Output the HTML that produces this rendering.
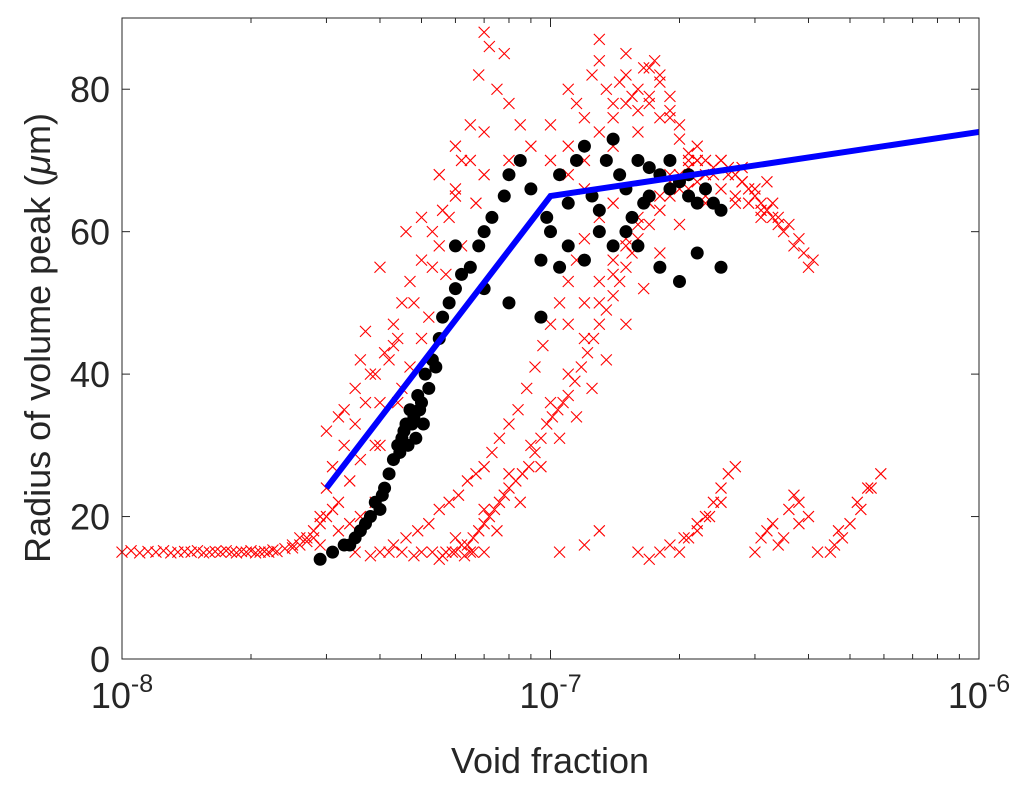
<!DOCTYPE html>
<html><head><meta charset="utf-8">
<style>
html,body{margin:0;padding:0;background:#fff;}
svg{display:block;font-family:"Liberation Sans",sans-serif;}
</style></head>
<body>
<svg id="chart" width="1033" height="793" viewBox="0 0 1033 793" xmlns="http://www.w3.org/2000/svg">
<rect x="122" y="18" width="857" height="641" fill="#fff"/>
<g id="marks"></g>
<g id="axes"></g>
<text transform="translate(50,338) rotate(-90)" text-anchor="middle" font-size="36" fill="#262626">Radius of volume peak (<tspan font-style="italic">μ</tspan>m)</text>
<text x="550" y="773" text-anchor="middle" font-size="36" fill="#262626">Void fraction</text>
</svg>
<script>
// x values are in units of 1e-8
const UNIT = 1e-8;
const redX = [1.0,1.05,1.1,1.15,1.2,1.25,1.3,1.35,1.4,1.45,1.5,1.55,1.6,1.65,1.7,1.75,1.8,1.85,1.9,1.95,2.0,2.05,2.1,2.15,2.2,2.25,2.3,2.4,2.5,2.6,2.7,2.8,
2.6,2.8,3.0,3.0,3.2,3.3,3.5,3.6,3.8,4.0,4.0,4.2,4.4,4.5,4.8,5.0,5.0,5.3,5.5,5.8,6.0,6.2,6.5,6.8,7.0,7.2,7.5,7.8,8.0,8.5,9.0,6.0,5.5,7.0,8.0,4.6,3.7,3.4,2.9,3.1,3.9,4.3,
11,12,13,14,15,16,17,18,19,12,14,16,13,15,18,20,22,10,11,17,19,21,13.5,15.5,
10,11,12,13,14,15,16,17,18,19,20,21,23,12.5,14.5,16.5,17.5,11.5,
5.5,5.7,6.0,6.2,6.4,6.6,6.8,7.0,7.2,7.4,7.6,7.8,8.0,8.3,8.6,8.9,9.2,9.5,9.8,10.1,10.4,10.7,11.0,11.4,11.8,12.2,12.6,13.0,13.5,14.0,14.5,15,15.5,16,17,18,19,20,22,24,26,28,30,33,36,38,40,
6.0,7.0,8.0,9.0,10,11,12,13,14,15,17,19,22,25,28,32,
6.5,7.5,8.5,9.5,10.5,11.5,12.5,13.5,15,16.5,18,20,23,27,31,
4.0,4.3,4.6,4.9,5.2,5.5,5.8,6.1,6.4,6.7,7.0,7.3,7.6,8.0,8.4,8.8,9.2,9.6,10,10.5,11,11.5,12,13,14,
3.5,3.8,4.2,4.5,4.8,5.0,5.3,5.6,5.9,6.3,6.6,7.0,
2.9,3.0,3.1,3.3,3.5,3.7,3.9,4.1,4.3,4.5,4.7,5.0,5.3,5.6,6,6.5,7,3.2,3.6,4.0,4.4,4.7,5.2,5.7,6.2,6.7,2.5,2.7,2.9,3.2,3.4,3.6,3.9,
10.5,12,13,16,17,18,20,21,22,23,24,25,26,27,30,31,33,34,36,37,38,42,45,48,50,53,56,59,
19,20.5,22,23.5,25,32,35,38,40,46,47,52,55,
16,17,18,19,20,21,22,23,24,25,26,27,28,29,30,31,32,33,34,35,37,39,41,21,23,25,27,29,31,34,
13,14,15,16,12,11];
const redY = [15,15.2,14.9,15.1,15,15.2,14.9,15,15.1,15,15.2,14.9,15,15.1,15,15.2,15,14.9,15.1,15,15.2,14.9,15,15.1,15,15.3,15.1,15.5,15.6,16,16.5,17,
17,18,20,32,22,35,38,28,40,36,55,42,45,38,50,62,45,55,58,62,65,70,75,82,88,86,80,85,78,75,72,72,68,68,70,60,46,25,19,21,30,44,
80,76,84,78,82,80,83,81,79,70,72,74,87,85,76,75,72,75,72,78,77,70,80,79,
70,68,66,74,76,78,77,79,82,76,73,71,70,82,81,83,84,78,
14,15,15,16,16,17,18,19,20,21,22,23,24,25,26,27,29,31,33,34,35,36,37,39,41,43,45,47,49,51,53,55,57,59,61,63,65,66,67,68,68,67,66,64,61,59,55,
17,21,26,30,36,40,45,50,54,58,64,68,70,70,69,67,
15,18,22,27,31,34,38,42,47,52,57,61,64,64,62,
15,16,17,18,19,21,22,23,25,26,27,29,31,33,35,38,41,44,47,50,53,56,59,62,64,
15,14.5,15,15,14.5,15,15,14.5,15,14.5,15,15,
20,24,27,30,33,36,40,43,47,50,53,56,60,63,66,70,74,34,42,30,36,41,48,54,58,64,16,17,16,18,19,20,22,
15,16,18,15,14,15,15,17,18,20,22,24,26,27,15,17,19,16,21,23,22,15,15,17,19,21,24,26,
16,17,19,20,22,18,17,19,20,16,18,22,24,
62,64,65,67,68,69,70,68,69,70,69,68,67,66,65,64,63,62,61,60,58,57,56,66,65,66,65,64,63,62,
53,56,59,61,50,47];
const blackX = [2.9,3.1,3.3,3.5,3.6,3.8,3.9,4.0,4.1,4.2,4.3,4.4,4.5,4.6,4.7,4.8,4.9,5.0,5.1,5.3,5.5,5.6,5.8,6.0,6.2,6.5,6.8,7.0,7.3,7.8,8.0,8.5,9.0,9.5,9.8,10,10.5,11,11.5,12,12.5,13,13.5,14,14.5,15,15.5,16,17,18,19,20,21,22,23,24,25,18,20,22,25,16,12,11,9.5,8,7,6,10.5,13,15,17,19,21,14,16.5,
4.45,4.55,4.65,4.75,4.85,4.95,5.05,5.2,5.4,3.4,3.7,4.05];
const blackY = [14,15,16,17,18,20,22,21,24,26,28,30,31,33,35,34,37,36,40,42,45,48,50,52,54,55,58,60,62,65,68,70,66,48,62,60,68,64,70,72,65,60,70,73,68,66,62,70,69,68,66,67,65,64,66,64,63,55,53,57,55,58,56,58,56,50,52,58,55,63,60,65,70,68,58,64,
29,32,30,33,31,35,33,38,41,16,19,23];
const fitX = [3, 10, 100];
const fitY = [24, 65, 74];
const yTicks = [0,20,40,60,80];
const xTickExp = [-8,-7,-6];

const L=122,R=979,T=18,B=659;
const sx = v => L + (Math.log10(v) + 8) / 2 * (R - L);
const sy = v => B - v / 90 * (B - T);
const NS="http://www.w3.org/2000/svg";
const marks=document.getElementById('marks'), axes=document.getElementById('axes');
function mk(tag, attrs, parent){const e=document.createElementNS(NS,tag);for(const k in attrs)e.setAttribute(k,attrs[k]);parent.appendChild(e);return e;}

for(let i=0;i<redX.length;i++){
  const cx=sx(redX[i]*UNIT), cy=sy(redY[i]), s=5.5;
  const p=mk('path',{d:`M${cx-s},${cy-s}L${cx+s},${cy+s}M${cx-s},${cy+s}L${cx+s},${cy-s}`,stroke:'#ff0000','stroke-width':1.1},marks);
  
  
}
for(let i=0;i<blackX.length;i++){
  const c=mk('circle',{cx:sx(blackX[i]*UNIT),cy:sy(blackY[i]),r:6.5,fill:'#000'},marks);
  
  
}
const ln=mk('polyline',{points:fitX.map((x,i)=>sx(x*UNIT)+','+sy(fitY[i])).join(' '),fill:'none',stroke:'#0000ff','stroke-width':6},marks);



const box=mk('rect',{x:L,y:T,width:R-L,height:B-T,fill:'none',stroke:'#262626','stroke-width':1},axes);


yTicks.forEach(v=>{
  const y=sy(v);
  mk('line',{x1:L,x2:L+8,y1:y,y2:y,stroke:'#262626'},axes);
  mk('line',{x1:R,x2:R-8,y1:y,y2:y,stroke:'#262626'},axes);
  const t=mk('text',{x:L-12,y:y+13,'text-anchor':'end','font-size':36,fill:'#262626'},axes);
  t.textContent=v;
  
  
});
for(let d=-8;d<-6;d++){for(let m=2;m<=9;m++){
  const x=sx(m*Math.pow(10,d));
  mk('line',{x1:x,x2:x,y1:B,y2:B-5,stroke:'#262626'},axes);
  mk('line',{x1:x,x2:x,y1:T,y2:T+5,stroke:'#262626'},axes);
}}
xTickExp.forEach(e=>{
  const x=sx(Math.pow(10,e));
  mk('line',{x1:x,x2:x,y1:B,y2:B-9,stroke:'#262626'},axes);
  mk('line',{x1:x,x2:x,y1:T,y2:T+9,stroke:'#262626'},axes);
  const t=mk('text',{x:x,y:B+49,'text-anchor':'middle','font-size':36,fill:'#262626'},axes);
  
  
  const a=document.createElementNS(NS,'tspan');a.textContent='10';t.appendChild(a);
  const b=document.createElementNS(NS,'tspan');b.setAttribute('dy','-16');b.setAttribute('font-size','25');b.textContent=String(e);t.appendChild(b);
});
</script>
</body></html>
